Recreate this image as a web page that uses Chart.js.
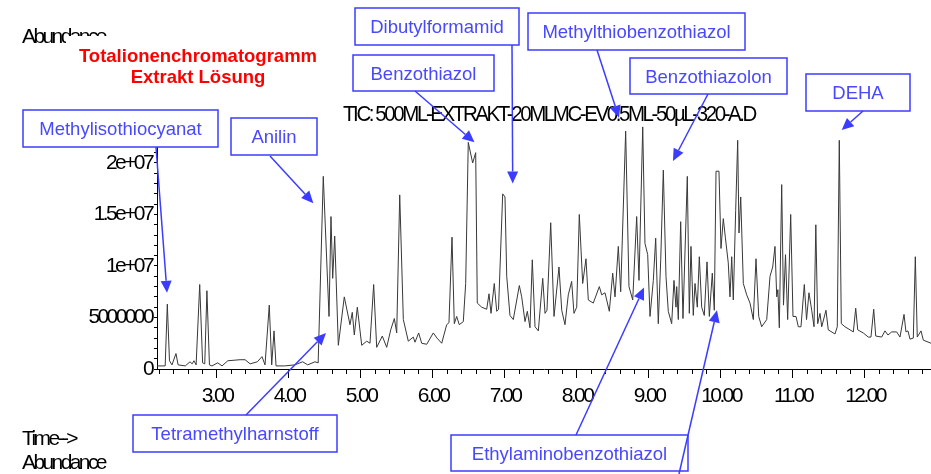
<!DOCTYPE html>
<html>
<head>
<meta charset="utf-8">
<script src="https://cdn.jsdelivr.net/npm/chart.js@4"></script>
<style>
  body { margin: 0; background: #fff; }
  canvas { display: block; }
</style>
</head>
<body>
<canvas id="tic" width="931" height="474"></canvas>
<script>
// retention time (min) and abundance (in millions)
const timeMin = [
  2.167, 2.28, 2.31, 2.34, 2.375, 2.43, 2.46, 2.56, 2.625, 2.655, 2.68, 2.71, 2.76, 2.80, 2.83, 2.86, 2.895, 2.93,
  3.01, 3.07, 3.15, 3.32, 3.39, 3.46, 3.56, 3.625, 3.667, 3.726, 3.76, 3.792, 3.82, 3.94, 4.08, 4.19, 4.26, 4.36, 4.405,
  4.476, 4.556, 4.583, 4.607, 4.635, 4.685, 4.768, 4.847, 4.879, 4.907, 4.949, 5.010, 5.079, 5.125, 5.176, 5.218,
  5.296, 5.357, 5.413, 5.463, 5.496, 5.538, 5.588, 5.657, 5.726, 5.75, 5.801, 5.843, 5.913, 6.004, 6.056, 6.121,
  6.190, 6.222, 6.264, 6.296, 6.329, 6.365, 6.421, 6.454, 6.490, 6.551, 6.593, 6.615, 6.676, 6.746, 6.778, 6.806,
  6.851, 6.885, 6.91, 6.968, 7.0, 7.024, 7.069, 7.115, 7.199, 7.232, 7.278, 7.310, 7.347, 7.379, 7.417, 7.463,
  7.524, 7.556, 7.583, 7.635, 7.681, 7.75, 7.788, 7.833, 7.879, 7.926, 7.958, 7.996, 8.032, 8.079, 8.125, 8.157,
  8.226, 8.310, 8.343, 8.389, 8.449, 8.496, 8.528, 8.574, 8.607, 8.676, 8.722, 8.774, 8.829, 8.861, 8.913, 8.944,
  8.982, 9.014, 9.060, 9.093, 9.129, 9.163, 9.199, 9.236, 9.268, 9.315, 9.347, 9.375, 9.385, 9.407, 9.440, 9.472,
  9.532, 9.560, 9.583, 9.615, 9.639, 9.671, 9.699, 9.732, 9.768, 9.806, 9.838, 9.879, 9.907, 9.931, 9.972, 10.0,
  10.032, 10.060, 10.101, 10.125, 10.149, 10.171, 10.204, 10.232, 10.25, 10.274, 10.310, 10.357, 10.403, 10.449,
  10.486, 10.524, 10.565, 10.635, 10.681, 10.718, 10.75, 10.774, 10.79, 10.810, 10.843, 10.868, 10.896, 10.926,
  10.968, 11.0, 11.042, 11.074, 11.111, 11.157, 11.188, 11.222, 11.260, 11.292, 11.317, 11.343, 11.375, 11.399,
  11.458, 11.490, 11.583, 11.615, 11.643, 11.671, 11.722, 11.792, 11.838, 11.871, 11.899, 11.976, 12.046, 12.083,
  12.121, 12.149, 12.232, 12.278, 12.319, 12.371, 12.440, 12.486, 12.542, 12.569, 12.597, 12.625, 12.671, 12.699,
  12.726, 12.778, 12.810, 12.917
];
const abundanceMio = [
  0.3, 0.3, 6.3, 0.8, 0.4, 1.5, 0.4, 0.3, 0.7, 0.5, 0.8, 0.4, 8.2, 0.6, 0.5, 7.6, 0.4, 0.3,
  0.6, 0.3, 0.8, 0.9, 0.9, 0.5, 0.7, 1.2, 0.4, 6.2, 0.4, 3.7, 0.3, 0.3, 0.4, 0.7, 0.4, 0.7, 0.6,
  18.7, 5.1, 14.8, 8.8, 12.9, 2.3, 7.0, 4.3, 5.5, 3.3, 6.0, 2.3, 2.7, 2.5, 8.2, 2.1,
  3.2, 2.1, 3.8, 4.9, 3.5, 16.9, 4.8, 2.7, 3.1, 2.6, 3.5, 2.5, 2.4, 3.5, 3.0, 2.5,
  4.3, 4.5, 12.8, 4.4, 5.1, 4.3, 4.6, 8.3, 22.0, 20.0, 21.0, 6.4, 6.0, 5.8, 7.3, 5.4,
  8.3, 5.6, 5.8, 17.0, 16.7, 9.0, 5.2, 4.8, 8.1, 7.0, 4.6, 5.6, 4.0, 10.6, 4.1, 3.7,
  8.8, 5.4, 5.7, 14.2, 5.1, 9.9, 5.7, 4.3, 7.2, 8.5, 5.4, 6.0, 15.0, 8.3, 10.7, 6.7,
  6.4, 8.0, 7.2, 7.4, 5.6, 9.3, 7.0, 11.9, 7.5, 23.1, 8.0, 6.7, 14.8, 8.6, 23.5, 12.2,
  11.1, 5.1, 8.6, 12.7, 4.4, 10.6, 19.3, 9.0, 5.6, 4.4, 8.6, 6.0, 8.0, 4.8, 14.3, 4.9,
  18.7, 5.4, 11.9, 5.2, 8.3, 6.0, 10.9, 6.0, 5.2, 10.4, 5.1, 9.3, 5.7, 19.2, 19.2, 11.7,
  14.6, 12.8, 10.3, 7.0, 10.9, 6.7, 15.4, 22.2, 13.2, 16.7, 8.3, 7.2, 6.4, 4.8,
  10.7, 5.1, 4.1, 4.8, 9.0, 9.9, 11.9, 7.0, 7.7, 4.0, 17.9, 6.2, 11.1, 4.8,
  15.0, 5.1, 5.1, 4.1, 4.1, 8.2, 4.8, 7.4, 5.7, 4.1, 14.0, 4.4, 5.4, 4.1,
  5.7, 3.8, 3.4, 4.1, 22.2, 4.4, 4.1, 3.8, 3.6, 5.9, 3.8, 3.5, 3.1, 3.1,
  5.8, 3.2, 3.1, 3.7, 3.3, 3.6, 3.6, 3.1, 5.3, 3.6, 3.7, 2.9, 3.0, 10.9,
  3.1, 3.7, 2.8, 2.5
];

const xTickValues = [3, 4, 5, 6, 7, 8, 9, 10, 11, 12];
const xTickLabels = ['3.00', '4.00', '5.00', '6.00', '7.00', '8.00', '9.00', '10.00', '11.00', '12.00'];
const yTickValues = [0, 5, 10, 15, 20];
const yTickLabels = ['0', '5000000', '1e+07', '1.5e+07', '2e+07'];

// peak labels: name and the point (time, abundance) each arrow points at
const compoundNames = ['Methylisothiocyanat', 'Anilin', 'Tetramethylharnstoff', 'Dibutylformamid', 'Benzothiazol',
  'Methylthiobenzothiazol', 'Benzothiazolon', 'DEHA', 'Ethylaminobenzothiazol'];
const arrowTargets = [
  [[2.306, 7.4]], [[4.338, 16.1]], [[4.514, 3.5]], [[7.107, 18.0]], [[6.576, 22.0]],
  [[8.583, 24.4]], [[9.333, 20.2]], [[11.676, 23.2]], [[8.931, 7.9], [9.944, 5.7]]
];

// label box layout in pixels: x, y, w, h and arrow tail points
const boxLayout = [
  { box: [23, 110, 195, 37], tails: [[156, 147]] },
  { box: [231, 118, 86, 37], tails: [[270, 156]] },
  { box: [133, 415, 204, 37], tails: [[246, 415]] },
  { box: [355, 8, 164, 37], tails: [[512, 45]] },
  { box: [353, 55, 141, 36], tails: [[415, 91]] },
  { box: [528, 13, 217, 37], tails: [[597, 50]] },
  { box: [630, 58, 157, 36], tails: [[708, 94]] },
  { box: [806, 74, 104, 37], tails: [[863, 111]] },
  { box: [451, 435, 237, 36], tails: [[576, 435], [679, 474]] }
];

const BLUE = '#3c3cff';
const TEXT_BLUE = '#4848ff';
const CONDENSED = '-2.6px';

function drawArrow(ctx, x1, y1, x2, y2) {
  const a = Math.atan2(y2 - y1, x2 - x1);
  const len = 12, half = 5.5;
  const bx = x2 - len * Math.cos(a), by = y2 - len * Math.sin(a);
  ctx.beginPath();
  ctx.moveTo(x1, y1);
  ctx.lineTo(bx, by);
  ctx.stroke();
  ctx.beginPath();
  ctx.moveTo(x2, y2);
  ctx.lineTo(bx - half * Math.sin(a), by + half * Math.cos(a));
  ctx.lineTo(bx + half * Math.sin(a), by - half * Math.cos(a));
  ctx.closePath();
  ctx.fill();
}

const overlay = {
  id: 'overlay',
  beforeDraw(chart) {
    chart.ctx.letterSpacing = CONDENSED;
  },
  afterDraw(chart) {
    const ctx = chart.ctx;
    const xs = chart.scales.x, ys = chart.scales.y;
    ctx.save();
    ctx.letterSpacing = CONDENSED;
    ctx.fillStyle = '#000';
    ctx.textAlign = 'left';
    ctx.textBaseline = 'alphabetic';
    ctx.font = '22px "Liberation Sans", Arial, sans-serif';
    ctx.fillText('TIC: 500ML-EXTRAKT-20MLMC-EV0.5ML-50\u00b5L-320-A.D', 343, 121, 412);
    ctx.font = '21px "Liberation Sans", Arial, sans-serif';
    ctx.fillText('Abundance', 22, 43);
    ctx.fillText('Time-->', 22, 445);
    ctx.fillText('Abundance', 22, 469);
    ctx.letterSpacing = '0px';

    // title block (white background hides part of the axis title)
    ctx.fillStyle = '#fff';
    ctx.fillRect(66, 36, 264, 54);
    ctx.fillStyle = '#ff0000';
    ctx.textAlign = 'center';
    ctx.font = 'bold 18.5px "Liberation Sans", Arial, sans-serif';
    ctx.fillText('Totalionenchromatogramm', 198, 61.5);
    ctx.fillText('Extrakt L\u00f6sung', 198, 82.5);

    // label boxes
    ctx.font = '18.5px "Liberation Sans", Arial, sans-serif';
    ctx.lineWidth = 1.5;
    compoundNames.forEach((name, i) => {
      const [bx, by, bw, bh] = boxLayout[i].box;
      ctx.fillStyle = '#fff';
      ctx.fillRect(bx, by, bw, bh);
      ctx.strokeStyle = BLUE;
      ctx.strokeRect(bx, by, bw, bh);
      ctx.fillStyle = TEXT_BLUE;
      ctx.fillText(name, bx + bw / 2, by + bh / 2 + 6.6);
    });

    // arrows to the peaks
    ctx.strokeStyle = BLUE;
    ctx.fillStyle = BLUE;
    ctx.lineWidth = 1.5;
    compoundNames.forEach((name, i) => {
      arrowTargets[i].forEach((target, k) => {
        const [tx, ty] = boxLayout[i].tails[k];
        drawArrow(ctx, tx, ty, xs.getPixelForValue(target[0]), ys.getPixelForValue(target[1]));
      });
    });
    ctx.restore();
  }
};

const points = timeMin.map((t, i) => ({ x: t, y: abundanceMio[i] }));
const axisFont = { family: '"Liberation Sans", Arial, sans-serif', size: 21 };

new Chart(document.getElementById('tic'), {
  type: 'line',
  data: {
    datasets: [{
      data: points,
      borderColor: '#383838',
      borderWidth: 1,
      pointRadius: 0,
      tension: 0,
      clip: false,
    }],
  },
  options: {
    responsive: false,
    animation: false,
    devicePixelRatio: 1,
    layout: { padding: { top: 147, right: 0, left: 0, bottom: 0 } },
    plugins: {
      legend: { display: false },
      tooltip: { enabled: false },
    },
    scales: {
      xMinor: {
        type: 'linear',
        position: 'bottom',
        weight: 0,
        min: 2.1667,
        max: 12.9167,
        afterBuildTicks: (scale) => {
          const ticks = [];
          for (let v = 2.2; v < 12.9; v += 0.2) ticks.push({ value: Math.round(v * 10) / 10 });
          scale.ticks = ticks;
        },
        afterFit: (scale) => { scale.height = 0; },
        ticks: { display: false },
        border: { display: false },
        grid: { drawOnChartArea: false, tickLength: 5, color: '#000' },
      },
      x: {
        type: 'linear',
        position: 'bottom',
        weight: 1,
        min: 2.1667,
        max: 12.9167,
        afterBuildTicks: (scale) => {
          scale.ticks = xTickValues.map(v => ({ value: v }));
        },
        afterFit: (scale) => { scale.height = 105; },
        ticks: {
          autoSkip: false,
          maxRotation: 0,
          padding: 6,
          color: '#000',
          font: axisFont,
          callback: (value) => {
            const i = xTickValues.indexOf(value);
            return i >= 0 ? xTickLabels[i] : '';
          },
        },
        border: { display: true, color: '#000', width: 1 },
        grid: { drawOnChartArea: false, tickLength: 9, color: '#000' },
      },
      y: {
        type: 'linear',
        position: 'left',
        min: 0,
        max: 21.55,
        afterBuildTicks: (scale) => {
          const ticks = [];
          for (let v = 0; v <= 21; v++) ticks.push({ value: v });
          scale.ticks = ticks;
        },
        afterFit: (scale) => { scale.width = 157; },
        ticks: {
          autoSkip: false,
          padding: 2,
          color: '#000',
          font: axisFont,
          callback: (value) => {
            const i = yTickValues.indexOf(value);
            return i >= 0 ? yTickLabels[i] : '';
          },
        },
        border: { display: true, color: '#000', width: 1 },
        grid: { drawOnChartArea: false, tickLength: 3, color: '#000' },
      },
    },
  },
  plugins: [overlay],
});
</script>
</body>
</html>
